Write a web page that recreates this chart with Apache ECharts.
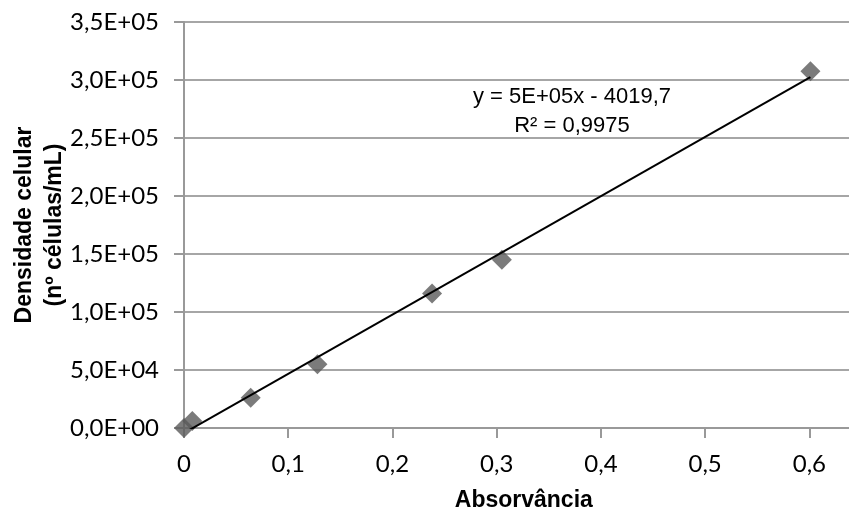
<!DOCTYPE html>
<html>
<head>
<meta charset="utf-8">
<script src="https://cdn.jsdelivr.net/npm/echarts@6/dist/echarts.min.js"></script>
<style>html,body{margin:0;padding:0;background:#fff}#c{width:849px;height:512px}</style>
</head>
<body>
<div id="c"></div>
<script>
var absorbance = [0, 0.008, 0.064, 0.128, 0.238, 0.305, 0.601];
var density = [0, 6000, 26000, 55000, 116000, 145000, 307500];
var xTickLabels = ['0', '0,1', '0,2', '0,3', '0,4', '0,5', '0,6', '0,7'];
var yTickLabels = ['0,0E+00', '5,0E+04', '1,0E+05', '1,5E+05', '2,0E+05', '2,5E+05', '3,0E+05', '3,5E+05'];
var xTitle = 'Absorvância';
var yTitle = 'Densidade celular\n(nº células/mL)';
var equationLines = ['y = 5E+05x - 4019,7', 'R² = 0,9975'];

// least-squares trendline from the data
var n = absorbance.length, mx = 0, my = 0;
for (var i = 0; i < n; i++) { mx += absorbance[i]; my += density[i]; }
mx /= n; my /= n;
var sxy = 0, sxx = 0;
for (var i = 0; i < n; i++) { sxy += (absorbance[i]-mx)*(density[i]-my); sxx += (absorbance[i]-mx)*(absorbance[i]-mx); }
var slope = sxy / sxx, intercept = my - slope * mx;
var xMin = Math.min.apply(null, absorbance), xMax = Math.max.apply(null, absorbance);
var trend = [[xMin, intercept + slope * xMin], [xMax, intercept + slope * xMax]];

var pts = absorbance.map(function (x, i) { return [x, density[i]]; });
var chart = echarts.init(document.getElementById('c'));
var tickFont = 'Lato, "Open Sans", sans-serif';
var titleFont = '"Liberation Sans", Arial, sans-serif';
chart.setOption({
  animation: false,
  backgroundColor: '#fff',
  grid: { left: 184, top: 22, bottom: 84, right: -64.6, containLabel: false, outerBoundsMode: 'none' },
  xAxis: {
    type: 'value', min: 0, max: 0.7, interval: 0.1,
    name: xTitle, nameLocation: 'middle', nameGap: 61, nameMoveOverlap: false,
    nameTextStyle: { fontFamily: titleFont, fontWeight: 'bold', fontSize: 23, color: '#000', padding: [0, 50, 0, 0] },
    axisLine: { show: true, lineStyle: { color: '#999', width: 2 } },
    axisTick: { show: true, inside: false, length: 10, lineStyle: { color: '#999', width: 2 } },
    axisLabel: { margin: 24, fontFamily: tickFont, fontSize: 24, color: '#000',
      formatter: function (v) { return xTickLabels[Math.round(v / 0.1)] || ''; } },
    splitLine: { show: false }
  },
  yAxis: {
    type: 'value', min: 0, max: 350000, interval: 50000,
    name: yTitle, nameLocation: 'middle', nameGap: 114, nameMoveOverlap: false,
    nameTextStyle: { fontFamily: titleFont, fontWeight: 'bold', fontSize: 23, lineHeight: 30, color: '#000', align: 'center' },
    axisLine: { show: true, lineStyle: { color: '#999', width: 2 } },
    axisTick: { show: true, inside: false, length: 10, lineStyle: { color: '#999', width: 2 } },
    axisLabel: { margin: 25, fontFamily: tickFont, fontSize: 24, color: '#000',
      formatter: function (v) { return yTickLabels[Math.round(v / 50000)] || ''; } },
    splitLine: { show: true, lineStyle: { color: '#a6a6a6', width: 2 } }
  },
  graphic: [{
    type: 'text', x: 572, y: 82, z: 100,
    style: { text: equationLines.join('\n'), align: 'center', verticalAlign: 'top',
      fontFamily: titleFont, fontSize: 22, lineHeight: 29, fill: '#000' }
  }],
  series: [
    { type: 'scatter', data: pts, symbol: 'diamond', symbolSize: 20, clip: false,
      itemStyle: { color: '#5a5a5a' } },
    { type: 'line', data: trend, symbol: 'none', clip: true,
      lineStyle: { color: '#000', width: 2 } }
  ]
});
</script>
</body>
</html>
